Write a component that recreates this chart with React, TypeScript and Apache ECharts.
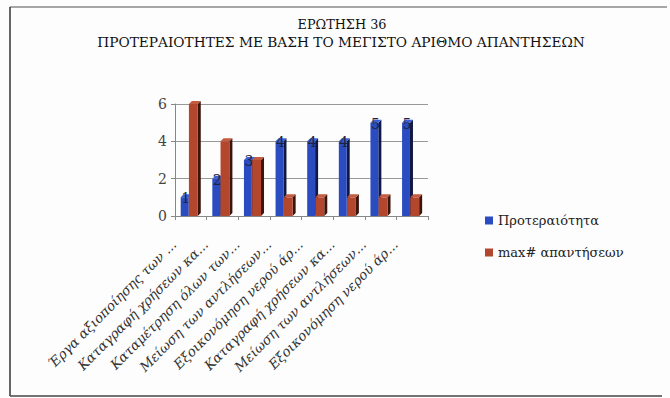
import React, { useEffect, useRef } from "react";
import * as echarts from "echarts";

const categories = [
  "Έργα αξιοποίησης των ...",
  "Καταγραφή χρήσεων κα...",
  "Καταμέτρηση όλων των...",
  "Μείωση των αντλήσεων...",
  "Εξοικονόμηση νερού άρ...",
  "Καταγραφή χρήσεων κα...",
  "Μείωση των αντλήσεων...",
  "Εξοικονόμηση νερού άρ...",
];
const priority = [1, 2, 3, 4, 4, 4, 5, 5];
const maxAnswers = [6, 4, 3, 1, 1, 1, 1, 1];
const seriesNames = ["Προτεραιότητα", "max# απαντήσεων"];
const titleLine1 = "ΕΡΩΤΗΣΗ 36";
const titleLine2 = "ΠΡΟΤΕΡΑΙΟΤΗΤΕΣ ΜΕ ΒΑΣΗ ΤΟ ΜΕΓΙΣΤΟ ΑΡΙΘΜΟ ΑΠΑΝΤΗΣΕΩΝ";
const yMin = 0;
const yMax = 6;
const yInterval = 2;

const SERIF = "DejaVu Serif";

function measure(text: string, font: string): number {
  const ctx = document.createElement("canvas").getContext("2d");
  if (!ctx) return text.length * 7;
  ctx.font = font;
  return ctx.measureText(text).width;
}

function makeRender(
  offFrac: number,
  wFrac: number,
  front: string,
  side: string,
  top: string,
  showLabel: boolean
) {
  return (params: any, api: any) => {
    const cat = api.value(0);
    const val = api.value(1);
    const pTop = api.coord([cat, val]);
    const pBase = api.coord([cat, 0]);
    const band = api.size([1, 0])[0];
    const x0 = pTop[0] + offFrac * band;
    const w = wFrac * band;
    const d = 3;
    const yT = pTop[1];
    const yB = pBase[1];
    const children: any[] = [
      {
        type: "polygon",
        shape: {
          points: [
            [x0 + w, yT],
            [x0 + w + d, yT - d],
            [x0 + w + d, yB - d],
            [x0 + w, yB],
          ],
        },
        style: { fill: side },
      },
      {
        type: "polygon",
        shape: {
          points: [
            [x0, yT],
            [x0 + d, yT - d],
            [x0 + w + d, yT - d],
            [x0 + w, yT],
          ],
        },
        style: { fill: top },
      },
      {
        type: "rect",
        shape: { x: x0, y: yT, width: w, height: yB - yT },
        style: { fill: front },
      },
    ];
    if (showLabel) {
      children.push({
        type: "text",
        x: x0 + w / 2 + 1,
        y: yT + 1,
        style: {
          text: String(val),
          fill: "#1c2340",
          fontFamily: SERIF,
          fontSize: 14,
          textAlign: "center",
          textVerticalAlign: "middle",
        },
      });
    }
    return { type: "group", children };
  };
}

export default function App() {
  const ref = useRef<HTMLDivElement>(null);
  useEffect(() => {
    if (!ref.current) return;
    const chart = echarts.init(ref.current, null, { renderer: "svg" });
    const s1 = 89 / measure(titleLine1, `12px "${SERIF}"`);
    const s2 = 488 / measure(titleLine2, `12px "${SERIF}"`);
    chart.setOption({
      animation: false,
      backgroundColor: "#fdfdfd",
      grid: {
        left: 175,
        right: 242,
        top: 104,
        bottom: 182,
        outerBoundsMode: "none",
      },
      legend: {
        orient: "vertical",
        left: 480,
        top: 209,
        icon: "rect",
        itemWidth: 8,
        itemHeight: 8,
        itemGap: 19,
        textStyle: { fontFamily: SERIF, fontSize: 13, color: "#222" },
        data: seriesNames,
      },
      xAxis: {
        type: "category",
        data: categories,
        axisLine: { lineStyle: { color: "#888" } },
        axisTick: { show: true, length: 4, lineStyle: { color: "#888" } },
        axisLabel: {
          interval: 0,
          rotate: 45,
          margin: 9,
          padding: [0, 24, 0, 0],
          fontFamily: SERIF,
          fontStyle: "italic",
          fontSize: 13.5,
          color: "#333",
        },
      },
      yAxis: {
        type: "value",
        min: yMin,
        max: yMax,
        interval: yInterval,
        axisLine: { show: true, lineStyle: { color: "#888" } },
        axisTick: { show: true, length: 4, lineStyle: { color: "#888" } },
        axisLabel: {
          margin: 8,
          fontFamily: SERIF,
          fontSize: 14,
          color: "#444",
        },
        splitLine: { lineStyle: { color: "#999" } },
      },
      series: [
        {
          name: seriesNames[0],
          type: "custom",
          itemStyle: { color: "#2b4cc0" },
          renderItem: makeRender(-0.32, 0.25, "#2b4cc0", "#101845", "#3c5fd6", true),
          data: priority.map((v, i) => [i, v]),
        },
        {
          name: seriesNames[1],
          type: "custom",
          itemStyle: { color: "#b3472e" },
          renderItem: makeRender(-0.06, 0.28, "#b3472e", "#3c140c", "#c45a3e", false),
          data: maxAnswers.map((v, i) => [i, v]),
        },
      ],
      graphic: [
        {
          type: "text",
          x: 342,
          y: 25,
          scaleX: s1,
          style: {
            text: titleLine1,
            fontFamily: SERIF,
            fontSize: 12,
            fill: "#111",
            textAlign: "center",
            textVerticalAlign: "middle",
          },
        },
        {
          type: "text",
          x: 341,
          y: 43,
          scaleX: s2,
          style: {
            text: titleLine2,
            fontFamily: SERIF,
            fontSize: 12,
            fill: "#111",
            textAlign: "center",
            textVerticalAlign: "middle",
          },
        },
        {
          type: "line",
          shape: { x1: 10, y1: 7, x2: 667, y2: 7 },
          style: { stroke: "#888", lineWidth: 1.5 },
        },
        {
          type: "line",
          shape: { x1: 10, y1: 7, x2: 10, y2: 396 },
          style: { stroke: "#333", lineWidth: 1.5 },
        },
        {
          type: "line",
          shape: { x1: 10, y1: 396, x2: 662, y2: 396 },
          style: { stroke: "#444", lineWidth: 1.5 },
        },
      ],
    });
    return () => chart.dispose();
  }, []);
  return (
    <div
      ref={ref}
      style={{ position: "fixed", left: 0, top: 0, width: 670, height: 398 }}
    />
  );
}
